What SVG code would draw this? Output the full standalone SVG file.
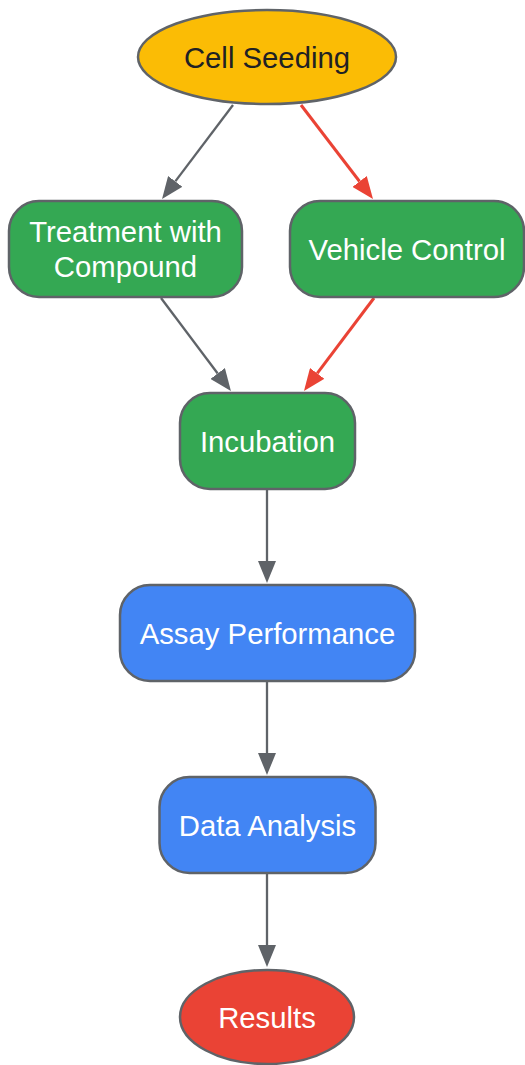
<svg xmlns="http://www.w3.org/2000/svg" width="525" height="1065" viewBox="0 0 525 1065">
<style>
.n{stroke:#5F6368;stroke-width:2.5}
.g{fill:#34A853}.b{fill:#4285F4}
.t{font-family:"Liberation Sans",Arial,sans-serif;font-size:29.3px;text-anchor:middle;fill:#FFFFFF}
.e{fill:none;stroke-width:2.3}
.eg{stroke:#5F6368}.er{stroke:#EA4335;stroke-width:3}
</style>
<defs>
<marker id="ag" markerUnits="userSpaceOnUse" markerWidth="22" markerHeight="18" viewBox="0 0 22 18" refX="0" refY="9" orient="auto"><path d="M0,0 L22,9 L0,18 z" fill="#5F6368"/></marker>
<marker id="ar" markerUnits="userSpaceOnUse" markerWidth="22" markerHeight="18" viewBox="0 0 22 18" refX="0" refY="9" orient="auto"><path d="M0,0 L22,9 L0,18 z" fill="#EA4335"/></marker>
</defs>
<g id="edges">
<path class="e eg" d="M233,105 L175.3,181.4" marker-end="url(#ag)"/>
<path class="e er" d="M301,105 L359.6,181.5" marker-end="url(#ar)"/>
<path class="e eg" d="M161,298 L217.7,373.5" marker-end="url(#ag)"/>
<path class="e er" d="M374,298 L317.2,373.4" marker-end="url(#ar)"/>
<path class="e eg" d="M267,490 L267,561" marker-end="url(#ag)"/>
<path class="e eg" d="M267,682 L267,753" marker-end="url(#ag)"/>
<path class="e eg" d="M267,874 L267,945" marker-end="url(#ag)"/>
</g>
<g id="cell_seeding">
<ellipse class="n" cx="267" cy="57" rx="129" ry="47" fill="#FBBC05"/>
<text class="t" x="267" y="68" style="fill:#202124">Cell Seeding</text>
</g>
<g id="treatment">
<rect class="n g" x="9" y="201" width="233" height="96" rx="30"/>
<text class="t" x="125.5" y="242">Treatment with</text>
<text class="t" x="125.5" y="277">Compound</text>
</g>
<g id="vehicle">
<rect class="n g" x="290" y="201" width="234" height="96" rx="30"/>
<text class="t" x="407" y="260">Vehicle Control</text>
</g>
<g id="incubation">
<rect class="n g" x="180" y="393" width="175" height="96" rx="30"/>
<text class="t" x="267.5" y="452">Incubation</text>
</g>
<g id="assay">
<rect class="n b" x="120" y="585" width="295" height="96" rx="30"/>
<text class="t" x="267.5" y="644">Assay Performance</text>
</g>
<g id="data_analysis">
<rect class="n b" x="159.5" y="777" width="216" height="96" rx="30"/>
<text class="t" x="267.5" y="836">Data Analysis</text>
</g>
<g id="results">
<ellipse class="n" cx="267" cy="1017" rx="87" ry="47" fill="#EA4335"/>
<text class="t" x="267" y="1028">Results</text>
</g>
</svg>
